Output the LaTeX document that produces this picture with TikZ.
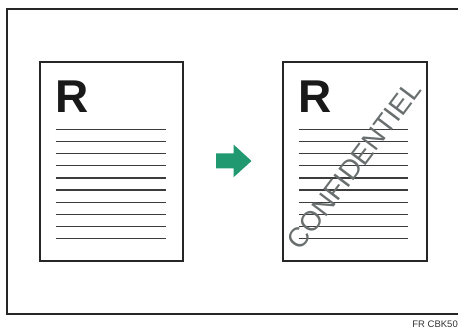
\documentclass[tikz,border=0pt]{standalone}
\usepackage{fontspec}
\setmainfont{Liberation Sans}
\definecolor{arrowgreen}{RGB}{32,152,112}
\definecolor{linegray}{RGB}{60,60,60}
\definecolor{stampgray}{RGB}{105,110,110}
\begin{document}
\begin{tikzpicture}[x=1pt,y=-1pt,
  frame/.style={draw=black!85,line width=2pt},
  page/.style={draw=black!85,line width=2pt,fill=white},
  textline/.style={draw=linegray,line width=1.3pt},
  bigR/.style={anchor=base west,inner sep=0pt,font=\fontsize{46}{46}\selectfont\bfseries,text=black!90},
  stamp/.style={inner sep=0pt,font=\fontsize{27.5}{27.5}\selectfont,text=stampgray}]
\useasboundingbox (0,0) rectangle (458,329);
\draw[frame] (7,9) rectangle (470,313.5);
% left page
\draw[page] (40,62) rectangle (183,261);
\node[bigR] (rl) at (55,113) {R};
\foreach \y in {129.3,141.5,153.7,165.8,178,190.1,202.3,214.4,226.6,238.7}
  \draw[textline] (55.5,\y) -- (165.5,\y);
% arrow
\fill[arrowgreen] (216,153.3) -- (233.5,153.3) -- (233.5,144.5) -- (251.5,161) -- (233.5,177.3) -- (233.5,168.3) -- (216,168.3) -- cycle;
% right page
\draw[page] (283,62) rectangle (426.5,261);
\node[bigR] (rr) at (298,113) {R};
\foreach \y in {129.3,141.5,153.7,165.8,178,190.1,202.3,214.4,226.6,238.7}
  \draw[textline] (298.5,\y) -- (408,\y);
\node[stamp,rotate=53] (stamp) at (354,165) {CONFIDENTIEL};
\node[anchor=base east,inner sep=0pt,font=\fontsize{9.5}{9.5}\selectfont,text=black!80] (code) at (458,327) {FR CBK50};
\end{tikzpicture}
\end{document}
